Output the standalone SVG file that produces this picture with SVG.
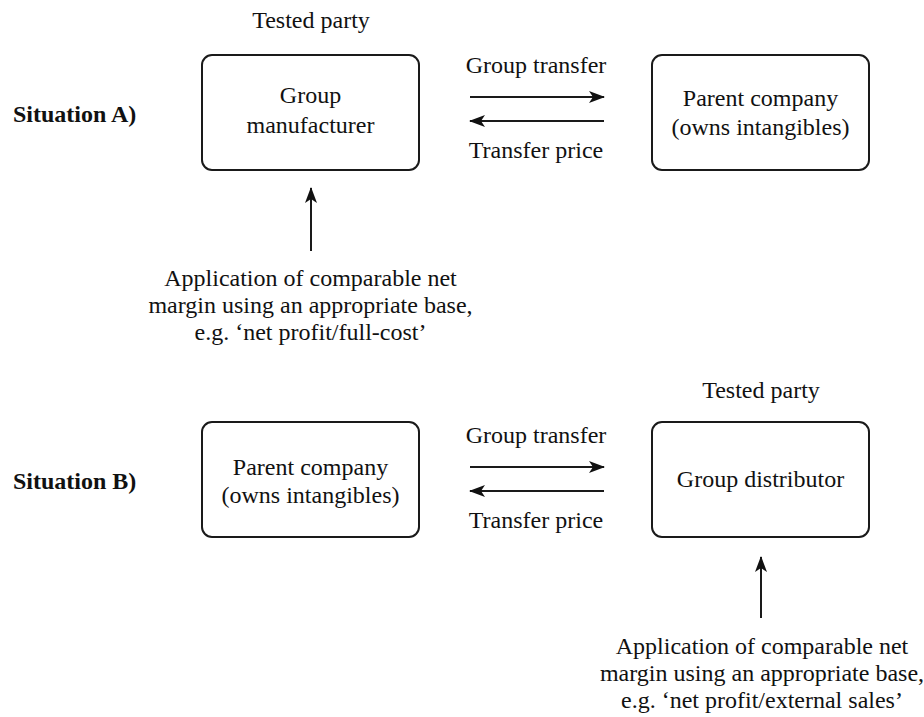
<svg xmlns="http://www.w3.org/2000/svg" width="924" height="717" viewBox="0 0 924 717" font-family="'Liberation Serif', 'DejaVu Serif', 'Noto Serif', serif">
<style>
  .box { fill: #ffffff; stroke: #1a1a1a; stroke-width: 2; }
  .t { font-size: 24px; fill: #111; text-anchor: middle; }
  .lbl { font-size: 24px; font-weight: bold; fill: #111; }
  .conn { stroke: #1a1a1a; stroke-width: 2; fill: none; marker-end: url(#ah); }
</style>
<defs>
  <marker id="ah" markerUnits="userSpaceOnUse" markerWidth="16" markerHeight="14" viewBox="0 0 16 14" refX="15" refY="7" orient="auto">
    <path d="M0,1 L16,7 L0,13 L4,7 Z" fill="#111"/>
  </marker>
</defs>
<rect width="924" height="717" fill="#ffffff"/>

<text class="lbl" x="13" y="122">Situation A)</text>
<text class="lbl" x="13" y="489">Situation B)</text>

<g id="tested-a"><text class="t" x="311" y="28">Tested party</text></g>

<g id="group-manufacturer">
  <rect class="box" x="202" y="55" width="217" height="115" rx="10"/>
  <text class="t" x="310.5" y="103">Group</text>
  <text class="t" x="310.5" y="133">manufacturer</text>
</g>

<g id="parent-a">
  <rect class="box" x="652" y="55" width="217" height="115" rx="10"/>
  <text class="t" x="760.5" y="106">Parent company</text>
  <text class="t" x="760.5" y="135">(owns intangibles)</text>
</g>

<g id="tested-b"><text class="t" x="761" y="398">Tested party</text></g>

<g id="parent-b">
  <rect class="box" x="202" y="422" width="217" height="115" rx="10"/>
  <text class="t" x="310.5" y="475">Parent company</text>
  <text class="t" x="310.5" y="503">(owns intangibles)</text>
</g>

<g id="group-distributor">
  <rect class="box" x="652" y="422" width="217" height="115" rx="10"/>
  <text class="t" x="760.5" y="487">Group distributor</text>
</g>

<g id="note-a">
  <text class="t" x="310.5" y="286">Application of comparable net</text>
  <text class="t" x="310.5" y="313">margin using an appropriate base,</text>
  <text class="t" x="310.5" y="340">e.g. ‘net profit/full-cost’</text>
</g>

<g id="note-b">
  <text class="t" x="762" y="654">Application of comparable net</text>
  <text class="t" x="762" y="681">margin using an appropriate base,</text>
  <text class="t" x="762" y="708">e.g. ‘net profit/external sales’</text>
</g>

<g id="connectors">
  <line class="conn" x1="470" y1="97" x2="604" y2="97"/>
  <line class="conn" x1="604" y1="121" x2="470" y2="121"/>
  <text class="t" x="536" y="73">Group transfer</text>
  <text class="t" x="536" y="158">Transfer price</text>
  <line class="conn" x1="311" y1="251" x2="311" y2="188"/>

  <line class="conn" x1="470" y1="467" x2="604" y2="467"/>
  <line class="conn" x1="604" y1="491" x2="470" y2="491"/>
  <text class="t" x="536" y="443">Group transfer</text>
  <text class="t" x="536" y="528">Transfer price</text>
  <line class="conn" x1="761" y1="618" x2="761" y2="557"/>
</g>
</svg>
